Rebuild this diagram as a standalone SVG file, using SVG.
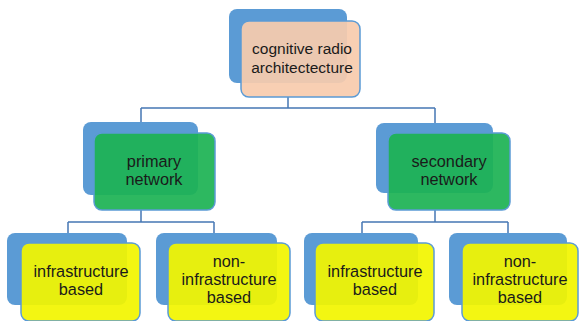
<svg xmlns="http://www.w3.org/2000/svg" width="580" height="321" viewBox="0 0 580 321">
<style>
.back{fill:#5b9bd5;}
.front{stroke:#5b9bd5;stroke-width:1.5;fill-opacity:0.93;}
.peach{fill:#f8cbad;}
.green{fill:#1db354;}
.yellow{fill:#f2f500;}
.conn{fill:none;stroke:#4677b4;stroke-width:1.5;}
text{font-family:"Liberation Sans",Arial,sans-serif;fill:#1a1a1a;text-anchor:middle;}
.t1{font-size:15.5px;}
.t2{font-size:16.3px;}
</style>
<rect width="580" height="321" fill="#ffffff"/>
<g id="connectors">
<path class="conn" d="M288 97 V108 M141 108 H435 M141 108 V122 M435 108 V123"/>
<path class="conn" d="M141 210 V222 M68 222 H214 M68 222 V233 M214 222 V233"/>
<path class="conn" d="M435 210 V222 M362 222 H508 M362 222 V233 M508 222 V233"/>
</g>
<g id="root">
<rect class="back" x="229" y="9" width="118" height="74" rx="8"/>
<rect class="front peach" x="241" y="21" width="119" height="76" rx="8"/>
<text class="t1" x="302" y="54">cognitive radio</text>
<text class="t1" x="302" y="73">architectecture</text>
</g>
<g id="primary">
<rect class="back" x="83" y="122" width="115" height="73" rx="8"/>
<rect class="front green" x="94" y="133" width="121" height="77" rx="8"/>
<text class="t2" x="154" y="167">primary</text>
<text class="t2" x="154" y="185">network</text>
</g>
<g id="secondary">
<rect class="back" x="376" y="123" width="117" height="70" rx="8"/>
<rect class="front green" x="388" y="133" width="122" height="77" rx="8"/>
<text class="t2" x="449" y="167">secondary</text>
<text class="t2" x="449" y="185">network</text>
</g>
<g id="leaf1">
<rect class="back" x="7" y="233" width="120" height="72" rx="8"/>
<rect class="front yellow" x="21" y="243" width="119" height="78" rx="8"/>
<text class="t2" x="81" y="277">infrastructure</text>
<text class="t2" x="81" y="295">based</text>
</g>
<g id="leaf2">
<rect class="back" x="156" y="233" width="121" height="72" rx="8"/>
<rect class="front yellow" x="168" y="243" width="122" height="78" rx="8"/>
<text class="t2" x="229" y="267">non-</text>
<text class="t2" x="229" y="285">infrastructure</text>
<text class="t2" x="229" y="303">based</text>
</g>
<g id="leaf3">
<rect class="back" x="304" y="233" width="114" height="72" rx="8"/>
<rect class="front yellow" x="315" y="243" width="119" height="78" rx="8"/>
<text class="t2" x="375" y="277">infrastructure</text>
<text class="t2" x="375" y="295">based</text>
</g>
<g id="leaf4">
<rect class="back" x="449" y="233" width="118" height="72" rx="8"/>
<rect class="front yellow" x="462" y="243" width="116" height="78" rx="8"/>
<text class="t2" x="520" y="267">non-</text>
<text class="t2" x="520" y="285">infrastructure</text>
<text class="t2" x="520" y="303">based</text>
</g>
</svg>
